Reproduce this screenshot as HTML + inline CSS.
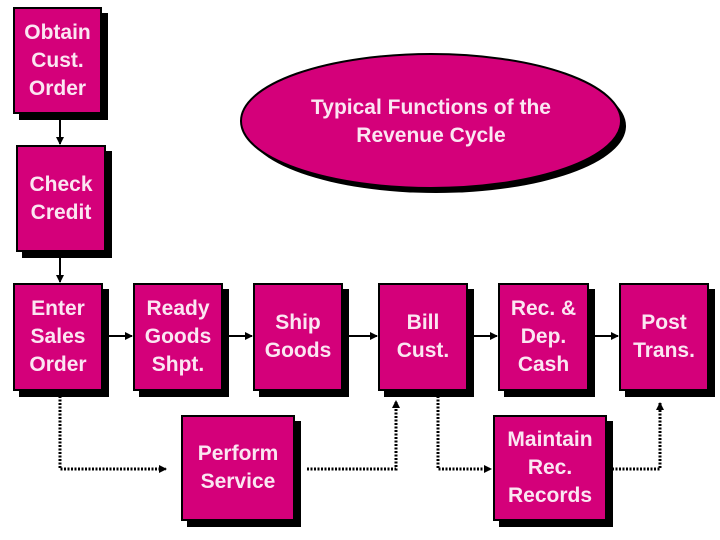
<!DOCTYPE html>
<html><head><style>
body{margin:0;width:720px;height:540px;background:#fff;overflow:hidden;position:relative;font-family:"Liberation Sans",Arial,sans-serif}
.b{position:absolute;background:#d4007a;border:2px solid #000;box-shadow:6px 6px 0 #000;box-sizing:border-box;color:#fbe6f2;font-weight:bold;font-size:21px;line-height:28px;display:flex;align-items:center;justify-content:center;text-align:center}
svg{position:absolute;left:0;top:0}
</style></head><body>
<svg width="720" height="540">
<defs><marker id="a" markerWidth="8" markerHeight="8" refX="7" refY="4" orient="auto" markerUnits="userSpaceOnUse"><path d="M0,0L8,4L0,8z" fill="#000"/></marker></defs>
<ellipse cx="436" cy="126" rx="190" ry="67" fill="#000"/>
<ellipse cx="431" cy="121" rx="190" ry="67" fill="#d4007a" stroke="#000" stroke-width="2"/>
<text x="431" y="114" text-anchor="middle" font-family="Liberation Sans,Arial,sans-serif" font-weight="bold" font-size="21" fill="#fbe6f2">Typical Functions of the</text>
<text x="431" y="142" text-anchor="middle" font-family="Liberation Sans,Arial,sans-serif" font-weight="bold" font-size="21" fill="#fbe6f2">Revenue Cycle</text>
<g stroke="#000" stroke-width="2" fill="none">
<line x1="60" y1="119" x2="60" y2="144" marker-end="url(#a)"/>
<line x1="60" y1="257" x2="60" y2="282" marker-end="url(#a)"/>
<line x1="108" y1="336" x2="132" y2="336" marker-end="url(#a)"/>
<line x1="228" y1="336" x2="252" y2="336" marker-end="url(#a)"/>
<line x1="348" y1="336" x2="377" y2="336" marker-end="url(#a)"/>
<line x1="473" y1="336" x2="497" y2="336" marker-end="url(#a)"/>
<line x1="594" y1="336" x2="618" y2="336" marker-end="url(#a)"/>
</g>
<g stroke="#000" stroke-width="3" fill="none" stroke-dasharray="2,1.5">
<polyline points="60,396 60,469 166,469" marker-end="url(#a)"/>
<polyline points="307,469 396,469 396,401" marker-end="url(#a)"/>
<polyline points="438,396 438,469 491,469" marker-end="url(#a)"/>
<polyline points="612,469 660,469 660,403" marker-end="url(#a)"/>
</g>
</svg>
<div class="b" style="left:13px;top:7px;width:89px;height:107px">Obtain<br>Cust.<br>Order</div>
<div class="b" style="left:16px;top:145px;width:90px;height:107px">Check<br>Credit</div>
<div class="b" style="left:13px;top:283px;width:90px;height:108px">Enter<br>Sales<br>Order</div>
<div class="b" style="left:133px;top:283px;width:90px;height:108px">Ready<br>Goods<br>Shpt.</div>
<div class="b" style="left:253px;top:283px;width:90px;height:108px">Ship<br>Goods</div>
<div class="b" style="left:378px;top:283px;width:90px;height:108px">Bill<br>Cust.</div>
<div class="b" style="left:498px;top:283px;width:91px;height:108px">Rec. &amp;<br>Dep.<br>Cash</div>
<div class="b" style="left:619px;top:283px;width:90px;height:108px">Post<br>Trans.</div>
<div class="b" style="left:181px;top:415px;width:114px;height:106px">Perform<br>Service</div>
<div class="b" style="left:493px;top:415px;width:114px;height:106px">Maintain<br>Rec.<br>Records</div>
</body></html>
